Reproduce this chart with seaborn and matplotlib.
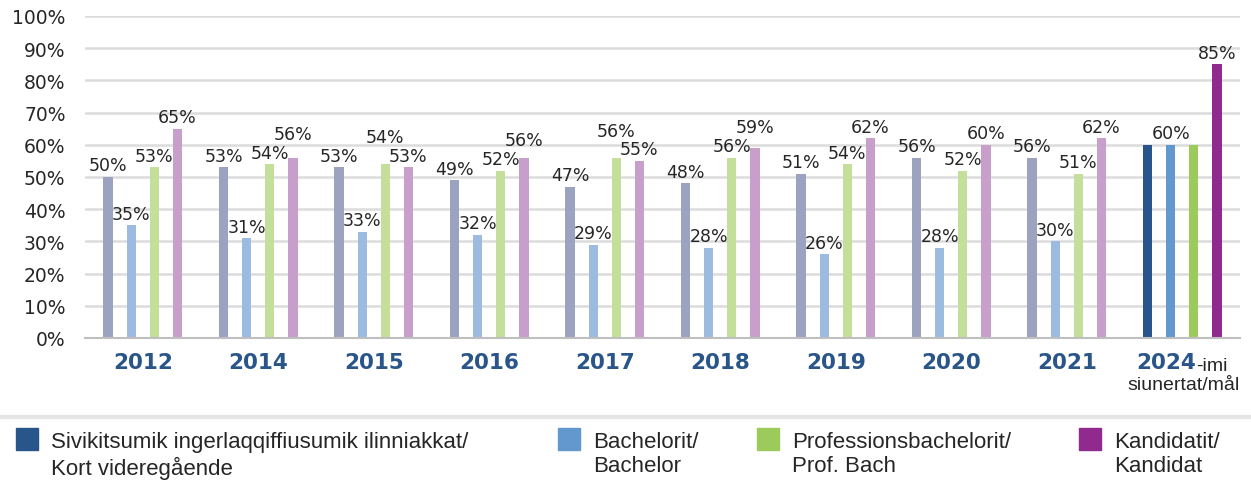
import matplotlib
matplotlib.use("Agg")
import matplotlib.pyplot as plt
from matplotlib.patches import Rectangle
from matplotlib.lines import Line2D
import pandas as pd
import seaborn as sns

years = ["2012", "2014", "2015", "2016", "2017", "2018", "2019", "2020", "2021", "2024"]
series = [
    "Sivikitsumik ingerlaqqiffiusumik ilinniakkat/\nKort videregående",
    "Bachelorit/\nBachelor",
    "Professionsbachelorit/\nProf. Bach",
    "Kandidatit/\nKandidat",
]
kort = [50, 53, 53, 49, 47, 48, 51, 56, 56, 60]
bachelor = [35, 31, 33, 32, 29, 28, 26, 28, 30, 60]
prof_bach = [53, 54, 54, 52, 56, 56, 54, 52, 51, 60]
kandidat = [65, 56, 53, 56, 55, 59, 62, 60, 62, 85]
goal_year = "2024"

strong = ["#28558A", "#6398CF", "#9DCB5B", "#912A8E"]
faded = ["#9BA3C1", "#9DBAE1", "#C3DF9A", "#C89FCB"]

values = [kort, bachelor, prof_bach, kandidat]
rows = []
for name, vals in zip(series, values):
    for yr, v in zip(years, vals):
        rows.append({"year": yr, "type": name, "pct": v / 100})
df = pd.DataFrame(rows)

sns.set_style("white")
plt.rcParams["font.family"] = ["DejaVu Sans"]
plain = "DejaVu Sans"
narrow = ["Liberation Sans", "DejaVu Sans"]

fig = plt.figure(figsize=(12.51, 4.85), dpi=100)
ax = fig.add_axes([85 / 1251, 1 - 339 / 485, 1155 / 1251, 322 / 485])

sns.barplot(
    data=df, x="year", y="pct", hue="type", order=years, hue_order=series,
    palette=strong, width=0.8, gap=0.6, ax=ax, legend=False, saturation=1,
    errorbar=None,
)

goal_idx = years.index(goal_year)
for c, cont in enumerate(ax.containers):
    for i, bar in enumerate(cont.patches):
        bar.set_edgecolor("none")
        if i != goal_idx:
            bar.set_facecolor(faded[c])

# labels with simple overlap avoidance between neighbouring bars
pad = 0.008
lab_h = 0.058
for i, yr in enumerate(years):
    if i == goal_idx:
        continue
    vals = [v[i] / 100 for v in values]
    pos = [v + pad for v in vals]
    for k in range(len(vals) - 1):
        a, b = k, k + 1
        hi, lo = (a, b) if vals[a] > vals[b] else (b, a)
        if pos[hi] - pos[lo] < lab_h:
            pos[hi] = pos[lo] + lab_h
    for c, cont in enumerate(ax.containers):
        bar = cont.patches[i]
        ax.text(bar.get_x() + bar.get_width() / 2, pos[c], f"{values[c][i]}%",
                ha="center", va="bottom", fontsize=12.5, family=plain,
                color="#262626")

# goal year: one shared label plus the kandidat label
for c in (1, 3):
    bar = ax.containers[c].patches[goal_idx]
    ax.text(bar.get_x() + bar.get_width() / 2, bar.get_height() + pad,
            f"{values[c][goal_idx]}%", ha="center", va="bottom",
            fontsize=12.5, family=plain, color="#262626")

ax.set_ylim(0, 1.0)
ax.set_xlim(-0.5, len(years) - 0.5)
ax.set_yticks([i / 10 for i in range(11)])
ax.set_yticklabels([f"{i * 10}%" for i in range(11)], fontsize=13.5,
                   family=plain, color="#262626")
ax.tick_params(axis="y", length=0, pad=14)
ax.tick_params(axis="x", length=0, pad=10)
ax.set_xticks(range(len(years)))
ax.set_xticklabels([y if y != goal_year else "" for y in years],
                   fontsize=15.5, fontweight="bold", family=plain,
                   color="#2A5588")
ax.set_xlabel("")
ax.set_ylabel("")
ax.yaxis.grid(True, color="#DCDCDC", lw=1.8)
ax.set_axisbelow(True)
for s in ["top", "right", "left"]:
    ax.spines[s].set_visible(False)
ax.spines["bottom"].set_color("#BFBFBF")
ax.spines["bottom"].set_linewidth(1.5)

tr = ax.get_xaxis_transform()
ax.text(goal_idx + 0.12, -0.043, goal_year, transform=tr, ha="right", va="top",
        fontsize=15.5, fontweight="bold", family=plain, color="#2A5588")
ax.text(goal_idx + 0.12, -0.058, "-imi", transform=tr, ha="left", va="top",
        fontsize=14, family=narrow, color="#262626")
ax.text(len(years) - 0.5, -0.118, "siunertat/mål", transform=tr, ha="right",
        va="top", fontsize=14, family=narrow, color="#262626")

# separator line and legend
fig.add_artist(Line2D([0, 1], [1 - 418 / 485] * 2, color="#E6E6E6", lw=3,
                      transform=fig.transFigure))
leg_x = [16, 558, 757, 1079]
for c, (name, x) in enumerate(zip(series, leg_x)):
    fig.add_artist(Rectangle((x / 1251, 1 - 451 / 485), 22 / 1251, 22 / 485,
                             color=strong[c], transform=fig.transFigure))
    fig.text((x + 35) / 1251, 1 - 432 / 485, name, ha="left", va="top",
             fontsize=16, family=narrow, color="#262626", linespacing=1.2)

fig.savefig("out.png", dpi=100)
